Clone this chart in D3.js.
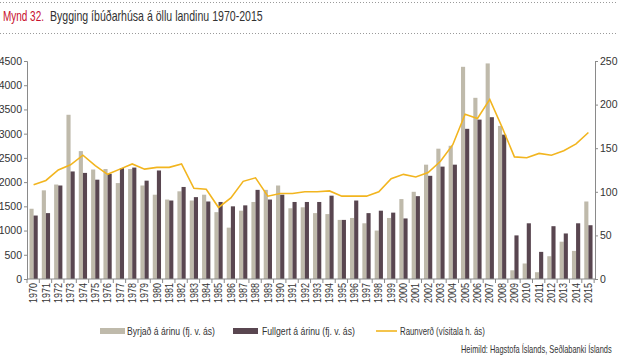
<!DOCTYPE html>
<html><head><meta charset="utf-8">
<script src="https://cdn.jsdelivr.net/npm/d3@7"></script>
<style>
body{margin:0;background:#fff;}
svg{display:block;}
</style></head>
<body>
<svg id="c" width="618" height="360"></svg>
<script>
const years = d3.range(1970, 2016).map(String);
const byrjad = [1450,1830,1950,3390,2640,2260,2270,1980,2270,1930,1740,1640,1810,1620,1740,
  1380,1060,1410,1590,1840,1930,1460,1480,1360,1340,1220,1260,1150,1000,1260,1650,
  1800,2360,2690,2750,4380,3740,4450,3160,180,320,140,470,770,580,1600];
const fullgert = [1310,1360,1930,2220,2190,2050,2170,2290,2300,2030,2240,1620,1900,1690,1600,
  1590,1500,1520,1840,1640,1740,1590,1590,1590,1720,1220,1620,1360,1410,1370,1250,
  1710,2130,2320,2360,3100,3290,3340,2980,900,1150,560,1090,940,1150,1110];
const raunverd = [108,113,125,131,142,130,120,126,132,126,128,128,132,104,103,
  82,93,112,116,95,98,98,100,100,101,95,95,95,100,115,120,
  117,122,135,154,189,184,206,174,140,139,144,142,147,155,168];
const leftTicks = [0,500,1000,1500,2000,2500,3000,3500,4000,4500];
const rightTicks = [0,50,100,150,200,250];
const titleRed = "Mynd 32.";
const titleRest = "Bygging íbúðarhúsa á öllu landinu 1970-2015";
const legendLabels = ["Byrjað á árinu (fj. v. ás)","Fullgert á árinu (fj. v. ás)","Raunverð (vísitala h. ás)"];
const source = "Heimild: Hagstofa Íslands, Seðlabanki Íslands";

const cGray = "#bfbaab", cDark = "#594650", cLine = "#f2b51f";
const font = "'Liberation Sans',Arial,sans-serif";
const svg = d3.select("#c");

// place a text at (x,y) and squeeze it horizontally to width w
function squeeze(parent, str, x, y, w, size, fill){
  const t = parent.append("text").attr("x",0).attr("y",0)
    .attr("font-family",font).attr("font-size",size).attr("fill",fill).text(str);
  const n = t.node().getComputedTextLength();
  t.attr("transform",`translate(${x},${y}) scale(${w/n},1)`);
  return t;
}

// title + dotted rules
[2,33].forEach(y => svg.append("line").attr("x1",0).attr("x2",618).attr("y1",y+0.5).attr("y2",y+0.5)
  .attr("stroke","#9a9a9a").attr("stroke-width",1).attr("stroke-dasharray","1,2"));
squeeze(svg, titleRed, 3, 21, 41, 14, "#c8102e");
squeeze(svg, titleRest, 50, 21, 213, 14, "#333");

const L = 27, R = 595, T = 61, B = 279;
const x = d3.scaleBand().domain(years).range([L, R]).paddingInner(0.33).paddingOuter(0.2);
const step = x.step();
const yL = d3.scaleLinear().domain([0,4500]).range([B,T]);
const yR = d3.scaleLinear().domain([0,250]).range([B,T]);
const bw = x.bandwidth()/2;

const g = svg.append("g");
g.selectAll(".b1").data(years).join("rect")
  .attr("x", d => x(d)).attr("width", bw)
  .attr("y", (d,i) => yL(byrjad[i])).attr("height",(d,i)=> B - yL(byrjad[i]))
  .attr("fill", cGray);
g.selectAll(".b2").data(years).join("rect")
  .attr("x", d => x(d)+bw).attr("width", bw)
  .attr("y", (d,i) => yL(fullgert[i])).attr("height",(d,i)=> B - yL(fullgert[i]))
  .attr("fill", cDark);

const line = d3.line().x((d,i)=> x(years[i]) + x.bandwidth()/2).y(d => yR(d));
g.append("path").datum(raunverd).attr("d", line).attr("fill","none")
  .attr("stroke", cLine).attr("stroke-width",1.6);

// axes
const axColor = "#8a8a8a";
const la = svg.append("g").attr("transform",`translate(${L},0)`)
  .call(d3.axisLeft(yL).tickValues(leftTicks).tickSize(3).tickPadding(2).tickFormat(d3.format("d")));
const ra = svg.append("g").attr("transform",`translate(${R},0)`)
  .call(d3.axisRight(yR).tickValues(rightTicks).tickSize(3).tickPadding(2));
const ba = svg.append("g").attr("transform",`translate(0,${B})`)
  .call(d3.axisBottom(x).tickSize(0).tickPadding(4));
[la,ra].forEach(a => {
  a.select(".domain").attr("stroke",axColor);
  a.selectAll(".tick line").attr("stroke",axColor);
  a.selectAll("text").attr("font-family",font).attr("font-size",10.5).attr("fill","#333");
});
ba.select(".domain").attr("stroke",axColor).attr("d",`M${L},0H${R}`);
ba.selectAll(".tick line").remove();
ba.selectAll(".tick text").attr("transform","rotate(-90)").attr("text-anchor","end")
  .attr("x",-4).attr("y",0).attr("dy","0.35em")
  .attr("font-family",font).attr("font-size",10.5).attr("fill","#333")
  .attr("textLength",20).attr("lengthAdjust","spacingAndGlyphs");
// category boundary ticks
ba.selectAll(".sep").data(d3.range(years.length+1)).join("line")
  .attr("x1", i => L + i*step).attr("x2", i => L + i*step)
  .attr("y1",0).attr("y2",4).attr("stroke",axColor);

// legend
const lg = svg.append("g");
lg.append("rect").attr("x",100).attr("y",328).attr("width",25).attr("height",6).attr("fill",cGray);
squeeze(lg, legendLabels[0], 127, 335, 88, 10.5, "#333");
lg.append("rect").attr("x",233).attr("y",328).attr("width",25).attr("height",6).attr("fill",cDark);
squeeze(lg, legendLabels[1], 262, 335, 93, 10.5, "#333");
lg.append("line").attr("x1",376).attr("x2",397).attr("y1",331).attr("y2",331).attr("stroke",cLine).attr("stroke-width",1.6);
squeeze(lg, legendLabels[2], 400, 335, 85, 10.5, "#333");

squeeze(svg, source, 461, 353, 151, 10, "#333");
</script>
</body></html>
